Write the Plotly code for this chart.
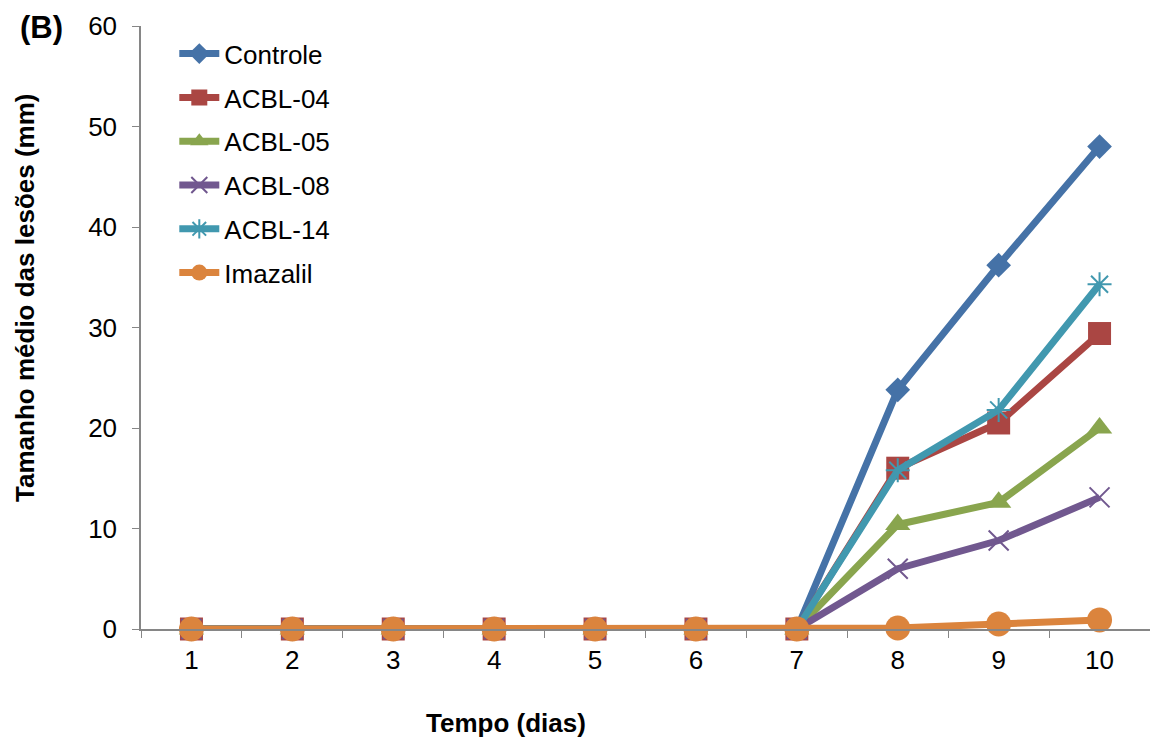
import plotly.graph_objects as go

dias = ["1", "2", "3", "4", "5", "6", "7", "8", "9", "10"]
controle = [0, 0, 0, 0, 0, 0, 0, 23.8, 36.2, 48.0]
acbl04 = [0, 0, 0, 0, 0, 0, 0, 16.0, 20.5, 29.4]
acbl05 = [0, 0, 0, 0, 0, 0, 0, 10.4, 12.6, 20.0]
acbl08 = [0, 0, 0, 0, 0, 0, 0, 6.0, 8.8, 13.1]
acbl14 = [0, 0, 0, 0, 0, 0, 0, 15.8, 21.8, 34.3]
imazalil = [0, 0, 0, 0, 0, 0, 0, 0.1, 0.5, 0.9]

series = [
    ("Controle", controle, "#4572A7", "diamond", 19, 0),
    ("ACBL-04", acbl04, "#AA4643", "square", 23, 0),
    ("ACBL-05", acbl05, "#89A54E", "triangle-up", 22, 0),
    ("ACBL-08", acbl08, "#71588F", "x-thin-open", 20, 2),
    ("ACBL-14", acbl14, "#4198AF", "asterisk-open", 20, 2),
    ("Imazalil", imazalil, "#DB843D", "circle", 25, 0),
]

FONT = "Liberation Sans, Arial, sans-serif"
fig = go.Figure()
for name, vals, color, sym, size, lw in series:
    marker = dict(symbol=sym, size=size, color=color)
    if lw:
        marker["line"] = dict(color=color, width=lw)
    else:
        marker["line"] = dict(width=0)
    fig.add_trace(go.Scatter(
        x=dias, y=vals, name=name, mode="lines+markers",
        line=dict(color=color, width=7), marker=marker,
        legendgroup=name, cliponaxis=False,
    ))

fig.update_layout(
    width=1150, height=738,
    margin=dict(l=141, r=0, t=26, b=109),
    paper_bgcolor="white", plot_bgcolor="white",
    font=dict(family=FONT, size=26, color="black"),
    showlegend=True,
    legend=dict(x=0.033, y=0.993, xanchor="left", yanchor="top",
                bgcolor="rgba(0,0,0,0)", tracegroupgap=7, itemwidth=40,
                font=dict(size=26)),
    xaxis=dict(type="category", tickson="boundaries", ticks="outside", ticklen=7,
               tickcolor="#868686", showline=True, linecolor="#868686", linewidth=1.5,
               showgrid=False, zeroline=False, range=[-0.5, 9.5],
               tickfont=dict(size=26), ticklabelstandoff=7),
    yaxis=dict(range=[0, 60], dtick=10, ticks="outside", ticklen=7,
               tickcolor="#868686", showline=True, linecolor="#868686", linewidth=1.5,
               showgrid=False, zeroline=False, tickfont=dict(size=26),
               ticklabelstandoff=10),
    annotations=[
        dict(text="<b>Tamanho médio das lesões (mm)</b>", textangle=-90,
             xref="paper", yref="paper", x=-0.115, y=0.549,
             xanchor="center", yanchor="middle", showarrow=False,
             font=dict(size=26)),
        dict(text="<b>Tempo (dias)</b>", xref="paper", yref="paper",
             x=0.362, y=-0.156, xanchor="center", yanchor="middle",
             showarrow=False, font=dict(size=26)),
        dict(text="<b>(B)</b>", xref="paper", yref="paper",
             x=-0.099, y=0.997, xanchor="center", yanchor="middle",
             showarrow=False, font=dict(size=31)),
    ],
)

fig.write_html("out.html")
